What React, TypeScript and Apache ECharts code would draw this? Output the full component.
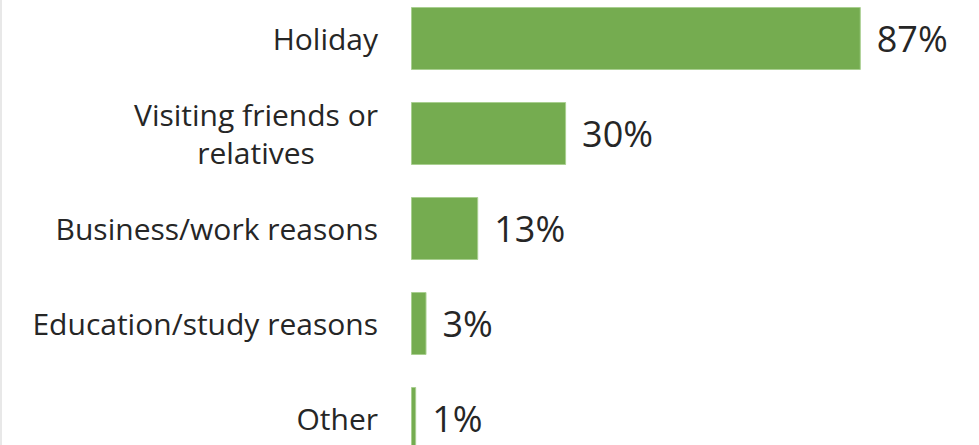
import React, { useEffect, useRef } from "react";
import * as echarts from "echarts";

const categories = [
  "Holiday",
  "Visiting friends or\nrelatives",
  "Business/work reasons",
  "Education/study reasons",
  "Other",
];
const values = [87, 30, 13, 3, 1];

export default function App() {
  const ref = useRef<HTMLDivElement>(null);
  useEffect(() => {
    if (!ref.current) return;
    const chart = echarts.init(ref.current, undefined, { renderer: "svg" });
    chart.setOption({
      animation: false,
      backgroundColor: "#ffffff",
      grid: { left: 411, right: 51, top: 0, bottom: 0, containLabel: false },
      xAxis: {
        type: "value",
        min: 0,
        max: 100,
        show: false,
      },
      yAxis: {
        type: "category",
        inverse: true,
        data: categories,
        axisLine: { show: false },
        axisTick: { show: false },
        axisLabel: {
          margin: 33,
          fontFamily: "Open Sans",
          fontSize: 30,
          color: "#262626",
          lineHeight: 38,
          formatter: (v: string) =>
            v
              .split("\n")
              .map((l) => `{c|${l}}`)
              .join("\n"),
          rich: {
            c: {
              align: "center",
              fontFamily: "Open Sans",
              fontSize: 30,
              color: "#262626",
              lineHeight: 38,
            },
          },
        },
      },
      graphic: [
        {
          type: "rect",
          shape: { x: 0, y: 0, width: 2, height: 475 },
          style: { fill: "#e8e8e8" },
        },
      ],
      series: [
        {
          type: "bar",
          data: values,
          barWidth: 63,
          itemStyle: { color: "#75AC50", borderColor: "#a9cf90", borderWidth: 1 },
          label: {
            show: true,
            position: "right",
            distance: 16,
            formatter: "{c}%",
            fontFamily: "Open Sans",
            fontSize: 36,
            color: "#262626",
          },
        },
      ],
    });
    return () => chart.dispose();
  }, []);
  return (
    <div
      ref={ref}
      style={{ position: "fixed", left: 0, top: -9, width: 979, height: 475 }}
    />
  );
}
